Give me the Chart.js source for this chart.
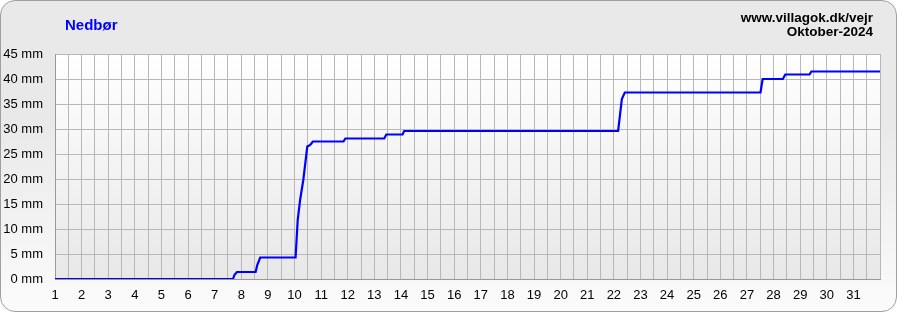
<!DOCTYPE html>
<html>
<head>
<meta charset="utf-8">
<script src="https://cdn.jsdelivr.net/npm/chart.js@4"></script>
<style>
  html, body { margin: 0; padding: 0; }
  body { width: 897px; height: 312px; overflow: hidden; }
  #wrap {
    position: relative;
    width: 895px; height: 310px;
    border: 1px solid #a0a0a0;
    border-radius: 15px;
    background: linear-gradient(#e9e9e9, #e9e9e9 40%, #fbfbfb);
    overflow: hidden;
    font-family: "Liberation Sans", Arial, sans-serif;
  }
  #chart { position: absolute; left: -1px; top: -1px; }
  .txt { position: absolute; font-weight: bold; white-space: nowrap; }
  #title { left: 64px; top: 16px; font-size: 15px; line-height: 15px; color: #0000ff; }
  #site { right: 23px; top: 10px; font-size: 13.5px; line-height: 14px; color: #000; text-align: right; }
</style>
</head>
<body>
<div id="wrap">
  <canvas id="chart" width="897" height="312"></canvas>
  <div class="txt" id="title">Nedbør</div>
  <div class="txt" id="site">www.villagok.dk/vejr<br>Oktober-2024</div>
</div>
<script>
// Precipitation, accumulated through October (day of month -> mm)
const days = [1, 7.69, 7.74, 7.84, 8.54, 8.60, 8.71, 10.04, 10.12, 10.21, 10.33, 10.48, 10.59, 10.69,
              11.84, 11.91, 13.37, 13.45, 14.06, 14.12, 22.16, 22.30, 22.41, 27.51, 27.59, 28.35,
              28.44, 29.35, 29.42, 32];
const rainMm = [0, 0, 0.8, 1.4, 1.4, 2.8, 4.3, 4.3, 11.8, 15.8, 19.8, 26.5, 26.8, 27.5,
                27.5, 28.1, 28.1, 28.9, 28.9, 29.6, 29.6, 36.0, 37.3, 37.3, 40.0, 40.0,
                40.9, 40.9, 41.5, 41.5];
const yTicks = [0, 5, 10, 15, 20, 25, 30, 35, 40, 45];
const lastDay = 31;

const points = days.map((d, i) => ({ x: d, y: rainMm[i] }));

// gradient behind the plot area
const plotBg = {
    id: 'plotBg',
    beforeDraw(chart) {
        const { ctx, chartArea: a } = chart;
        const g = ctx.createLinearGradient(0, a.top, 0, a.bottom);
        g.addColorStop(0, '#ffffff');
        g.addColorStop(1, '#e8e8e8');
        ctx.save();
        ctx.fillStyle = g;
        ctx.fillRect(a.left, a.top, a.right - a.left, a.bottom - a.top);
        ctx.restore();
    }
};

const tickFont = { family: '"Liberation Sans", Arial, sans-serif', size: 13 };

new Chart(document.getElementById('chart'), {
    type: 'line',
    data: {
        datasets: [{
            data: points,
            borderColor: '#0000ff',
            borderWidth: 2.2,
            pointRadius: 0,
            tension: 0,
            fill: false
        }]
    },
    options: {
        responsive: false,
        animation: false,
        layout: { padding: { top: 54, right: 17, left: 0, bottom: 0 } },
        plugins: { legend: { display: false }, tooltip: { enabled: false } },
        scales: {
            x: {
                type: 'linear',
                min: 1,
                max: lastDay + 1,
                afterFit(s) { s.height = 33; },
                grid: { color: '#b8b8b8', drawTicks: false },
                border: { color: '#999999' },
                ticks: {
                    stepSize: 0.5,
                    autoSkip: false,
                    maxRotation: 0,
                    padding: 9,
                    color: '#000',
                    font: tickFont,
                    callback: v => (Number.isInteger(v) && v <= lastDay) ? String(v) : ''
                }
            },
            y: {
                min: yTicks[0],
                max: yTicks[yTicks.length - 1],
                afterFit(s) { s.width = 55; },
                afterBuildTicks(s) { s.ticks = yTicks.map(v => ({ value: v })); },
                grid: { color: '#b8b8b8', drawTicks: false },
                border: { color: '#999999' },
                ticks: {
                    padding: 12,
                    color: '#000',
                    font: tickFont,
                    callback: v => v + ' mm'
                }
            }
        }
    },
    plugins: [plotBg]
});
</script>
</body>
</html>
